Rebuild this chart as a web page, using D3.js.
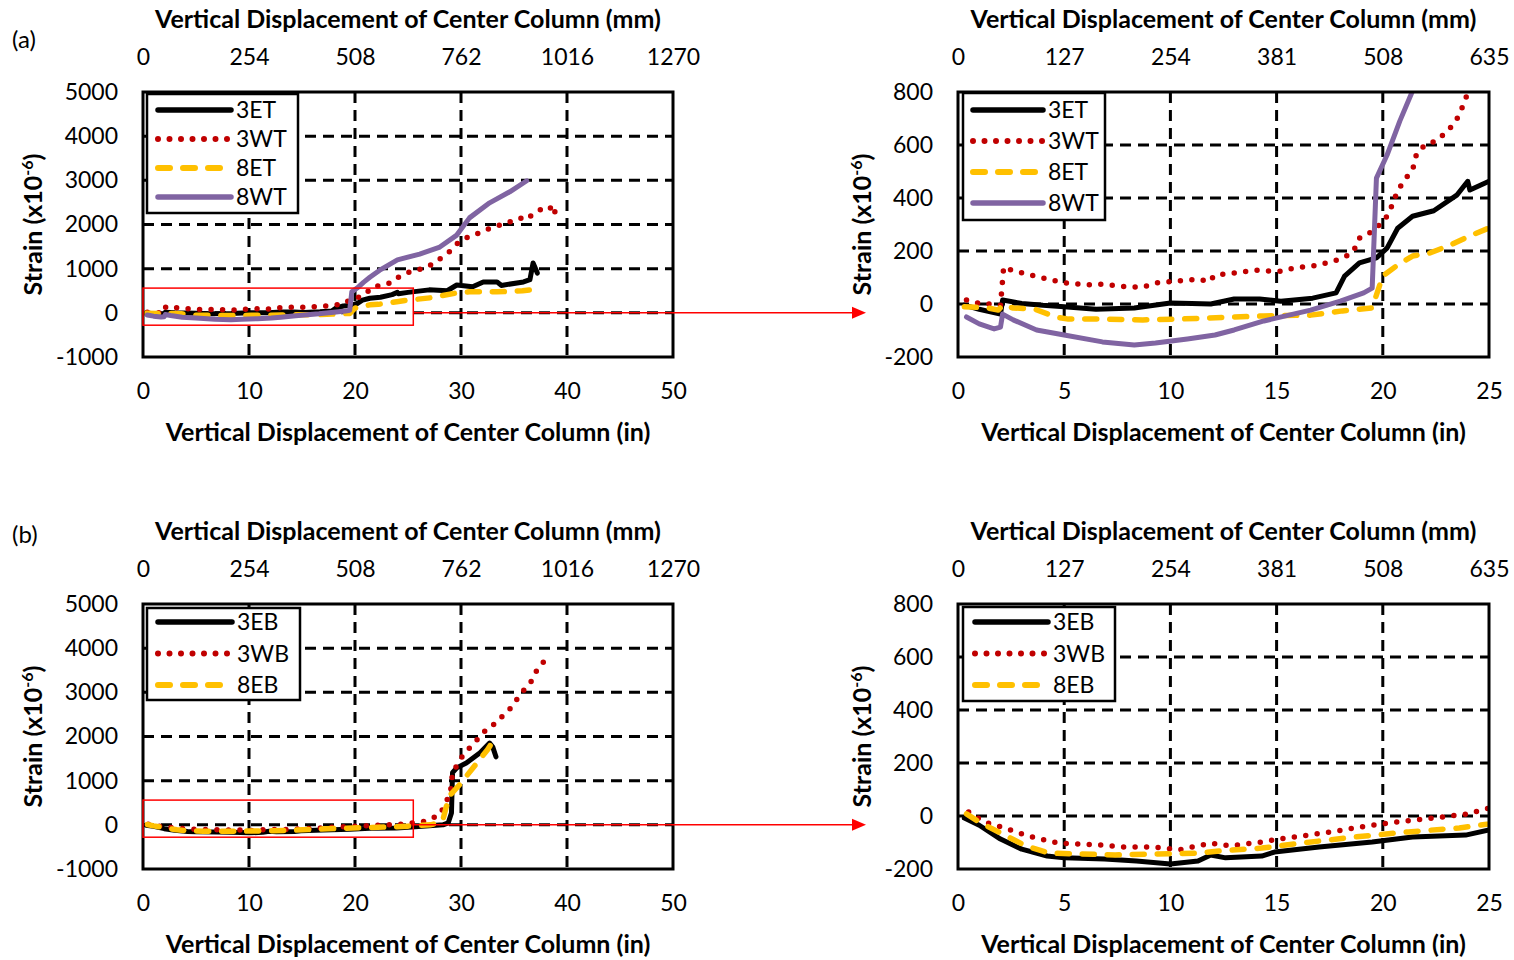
<!DOCTYPE html>
<html>
<head>
<meta charset="utf-8">
<style>
  body { margin: 0; background: #fff; }
  svg text { font-family: Lato, "Open Sans", sans-serif; fill: #000; }
</style>
<title>Strain vs displacement</title>
</head>
<body>
<svg id="chart" width="1514" height="960"></svg>
<script src="https://cdn.jsdelivr.net/npm/d3@7/dist/d3.min.js"></script>
<script>

// tick values / labels
var inTicksFull = [0, 10, 20, 30, 40, 50];
var mmTicksFull = ["0", "254", "508", "762", "1016", "1270"];
var inTicksZoom = [0, 5, 10, 15, 20, 25];
var mmTicksZoom = ["0", "127", "254", "381", "508", "635"];
var strainTicksFull = [-1000, 0, 1000, 2000, 3000, 4000, 5000];
var strainTicksZoom = [-200, 0, 200, 400, 600, 800];

// (a) top flange gauges : [displacement (in), strain (x10^-6)]
var s3ET = [[0.3,-4],[1.0,-20],[2.0,-38],[2.1,15],[3.0,2],[4.0,-5],[5.0,-10],[6.5,-20],[8.3,-15],[10.0,4],[11.0,2],[11.9,0],[13.0,19],[14.2,19],[15.2,10],[16.7,22],[17.8,42],[18.2,105],[18.9,155],[19.7,174],[20.2,211],[20.7,286],[21.4,331],[22.4,352],[23.5,412],[24.0,463],[24.1,430],[25.0,463],[27.0,520],[28.7,500],[29.6,630],[31.1,590],[32.1,700],[33.4,700],[33.8,620],[35.9,700],[36.5,750],[36.8,1130],[37.2,900]];
var s3WT = [[0.4,15],[0.8,5],[1.5,0],[2.0,-5],[2.15,140],[2.6,125],[3.8,102],[4.6,87],[5.1,79],[6.1,72],[6.8,75],[8.0,64],[8.7,64],[9.3,79],[10.3,87],[11.4,94],[11.8,83],[12.1,109],[13.0,117],[14.1,128],[14.7,124],[15.3,124],[15.8,136],[16.7,143],[17.7,162],[18.2,177],[18.6,196],[18.9,249],[19.2,257],[19.5,275],[20.0,309],[20.3,343],[20.5,388],[20.7,426],[21.0,467],[21.4,505],[21.6,570],[22.0,600],[22.6,619],[23.3,675],[23.6,713],[24.0,796],[24.9,905],[25.9,970],[26.8,1040],[27.5,1130],[28.5,1310],[29.0,1400],[29.7,1580],[30.5,1700],[31.1,1740],[32.1,1860],[33.2,1950],[34.6,2060],[35.6,2150],[36.0,2100],[37.0,2260],[37.7,2370],[38.2,2330],[38.8,2440],[38.9,2170]];
var s8ET = [[0.3,-10],[1.4,-15],[1.9,-23],[2.1,-4],[2.6,-15],[3.6,-19],[4.6,-49],[5.2,-57],[6.8,-57],[8.7,-60],[10.2,-57],[11.8,-53],[13.0,-49],[14.4,-45],[16.6,-42],[18.1,-26],[19.5,-15],[19.7,34],[20.0,106],[20.7,147],[21.4,181],[22.2,192],[23.2,223],[24.1,257],[25.0,287],[27.1,340],[29.6,450],[30.8,475],[33.4,475],[35.8,500],[36.5,520],[36.9,680]];
var s8WT = [[0.4,-49],[1.0,-75],[1.7,-94],[2.0,-87],[2.1,-38],[2.6,-60],[3.7,-98],[5.0,-117],[6.8,-143],[8.3,-155],[9.3,-147],[10.8,-132],[12.1,-117],[13.0,-98],[14.4,-64],[16.6,-23],[18.0,11],[19.1,42],[19.5,60],[19.7,475],[20.2,562],[20.8,690],[21.4,804],[22.3,960],[24.0,1200],[26.1,1330],[28.0,1490],[29.6,1760],[30.8,2150],[32.7,2490],[34.6,2740],[36.2,2990]];

// (b) bottom flange gauges
var s3EB = [[0.3,-8],[1.0,-35],[2.0,-87],[3.0,-125],[4.2,-151],[5.0,-158],[6.9,-162],[8.4,-170],[10.0,-181],[11.3,-170],[11.9,-147],[12.6,-158],[14.3,-151],[14.9,-136],[17.0,-117],[19.5,-98],[21.4,-79],[23.9,-72],[25.0,-53],[27.0,-20],[28.3,0],[28.8,45],[29.1,270],[29.2,1180],[29.6,1290],[30.5,1400],[31.8,1630],[32.7,1850],[33.0,1760],[33.3,1540]];
var s3WB = [[0.5,15],[0.85,-4],[1.5,-30],[2.2,-45],[2.7,-60],[3.3,-75],[3.9,-87],[4.7,-102],[5.7,-106],[6.7,-109],[7.7,-117],[9.2,-117],[10.4,-128],[11.9,-102],[12.8,-113],[14.3,-98],[15.1,-87],[16.2,-75],[17.6,-60],[19.2,-38],[20.3,-26],[21.5,-15],[22.8,-4],[24.0,8],[25.0,30],[26.4,70],[28.0,225],[29.0,720],[29.2,1180],[30.2,1580],[31.0,1790],[31.8,2000],[32.6,2220],[33.4,2310],[34.0,2490],[34.8,2670],[35.4,2890],[36.0,3070],[36.8,3300],[37.2,3530],[37.7,3670],[38.6,3820]];
var s8EB = [[0.4,8],[1.0,-23],[2.0,-64],[3.2,-113],[4.3,-140],[5.7,-143],[7.4,-147],[9.4,-143],[11.3,-140],[12.3,-132],[14.3,-121],[16.2,-102],[18.7,-79],[21.2,-60],[23.6,-45],[25.0,-30],[27.1,0],[28.0,50],[28.3,120],[28.6,400],[29.0,680],[30.1,970],[30.6,1130],[31.5,1400],[32.5,1700],[33.4,2040]];

var namesA = ["3ET", "3WT", "8ET", "8WT"];
var namesB = ["3EB", "3WB", "8EB"];
var seriesA = [s3ET, s3WT, s8ET, s8WT];
var seriesB = [s3EB, s3WB, s8EB];

// line styles: solid black, red dots, yellow dashes, purple solid
var styles = [
  { color: "#000000", width: 5, dash: null },
  { color: "#C00000", width: 5.5, dash: "0,11.5" },
  { color: "#FFC000", width: 5.5, dash: "12,13" },
  { color: "#8064A2", width: 5, dash: null }
];

var svg = d3.select("#chart");
var clipId = 0;

function drawPanel(p) {
  var x = d3.scaleLinear().domain(p.xDom).range([p.left, p.right]);
  var y = d3.scaleLinear().domain(p.yDom).range([p.bottom, p.top]);
  var g = svg.append("g");

  clipId++;
  svg.append("clipPath").attr("id", "clip" + clipId)
    .append("rect")
      .attr("x", p.left).attr("y", p.top)
      .attr("width", p.right - p.left).attr("height", p.bottom - p.top);

  // dashed grid
  g.selectAll("line.vg")
    .data(p.xTicks.slice(1, -1))
    .enter().append("line")
      .attr("x1", function(d) { return x(d); })
      .attr("x2", function(d) { return x(d); })
      .attr("y1", p.top).attr("y2", p.bottom)
      .attr("stroke", "#000").attr("stroke-width", 3).attr("stroke-dasharray", "11,7");
  g.selectAll("line.hg")
    .data(p.yTicks.slice(1, -1))
    .enter().append("line")
      .attr("y1", function(d) { return y(d); })
      .attr("y2", function(d) { return y(d); })
      .attr("x1", p.left).attr("x2", p.right)
      .attr("stroke", "#000").attr("stroke-width", 3).attr("stroke-dasharray", "11,7");

  // curves
  var line = d3.line().x(function(d) { return x(d[0]); }).y(function(d) { return y(d[1]); });
  var cg = g.append("g").attr("clip-path", "url(#clip" + clipId + ")");
  p.series.forEach(function(s, i) {
    var st = styles[i];
    cg.append("path")
      .attr("d", line(s))
      .attr("fill", "none")
      .attr("stroke", st.color)
      .attr("stroke-width", st.width)
      .attr("stroke-linecap", "round")
      .attr("stroke-linejoin", "round")
      .attr("stroke-dasharray", st.dash);
  });

  // frame
  g.append("rect")
    .attr("x", p.left).attr("y", p.top)
    .attr("width", p.right - p.left).attr("height", p.bottom - p.top)
    .attr("fill", "none").attr("stroke", "#000").attr("stroke-width", 3);

  // axes
  var bottomAxis = d3.axisBottom(x).tickValues(p.xTicks).tickSize(0).tickPadding(26)
    .tickFormat(function(d) { return String(d); });
  var topAxis = d3.axisTop(x).tickValues(p.xTicks).tickSize(0).tickPadding(27)
    .tickFormat(function(d, i) { return p.mmLabels[i]; });
  var leftAxis = d3.axisLeft(y).tickValues(p.yTicks).tickSize(0).tickPadding(25)
    .tickFormat(function(d) { return String(d); });

  [[bottomAxis, "translate(0," + p.bottom + ")"],
   [topAxis, "translate(0," + p.top + ")"],
   [leftAxis, "translate(" + p.left + ",0)"]].forEach(function(a) {
    var ax = g.append("g").attr("transform", a[1]).call(a[0]);
    ax.select(".domain").remove();
    ax.selectAll("text").style("font-family", "Lato, sans-serif").style("font-size", "23px").attr("fill", "#000");
  });

  var cx = (p.left + p.right) / 2;
  g.append("text").attr("x", cx).attr("y", p.top - 64)
    .attr("text-anchor", "middle").style("font-size", "25px").style("font-weight", "bold")
    .text("Vertical Displacement of Center Column (mm)");
  g.append("text").attr("x", cx).attr("y", p.bottom + 84)
    .attr("text-anchor", "middle").style("font-size", "25px").style("font-weight", "bold")
    .text("Vertical Displacement of Center Column (in)");

  var yt = g.append("text")
    .attr("transform", "translate(" + p.yTitleX + "," + ((p.top + p.bottom) / 2) + ") rotate(-90)")
    .attr("text-anchor", "middle").style("font-size", "25px").style("font-weight", "bold");
  yt.append("tspan").text("Strain (x10");
  yt.append("tspan").attr("dy", -9).style("font-size", "16px").text("-6");
  yt.append("tspan").attr("dy", 9).text(")");

  // legend
  var lg = p.legend;
  g.append("rect")
    .attr("x", lg.x).attr("y", lg.y).attr("width", lg.w).attr("height", lg.h)
    .attr("fill", "#fff").attr("stroke", "#000").attr("stroke-width", 2.5);
  p.names.forEach(function(n, i) {
    var st = styles[i];
    var yy = lg.y + lg.first + i * lg.step;
    g.append("line")
      .attr("x1", lg.x + lg.l0).attr("x2", lg.x + lg.l1)
      .attr("y1", yy).attr("y2", yy)
      .attr("stroke", st.color).attr("stroke-width", st.width + 0.5)
      .attr("stroke-linecap", "round").attr("stroke-dasharray", st.dash);
    g.append("text").attr("x", lg.x + lg.l1 + 5).attr("y", yy + 8)
      .style("font-size", "23px").text(n);
  });

  return { x: x, y: y };
}

var a1 = drawPanel({ left: 143, right: 673, top: 92, bottom: 357, xDom: [0, 50], yDom: [-1000, 5000],
  xTicks: inTicksFull, mmLabels: mmTicksFull, yTicks: strainTicksFull, yTitleX: 42,
  series: seriesA, names: namesA,
  legend: { x: 147, y: 94, w: 151, h: 119, first: 16, step: 29, l0: 11, l1: 84 } });
var a2 = drawPanel({ left: 958, right: 1489, top: 92, bottom: 357, xDom: [0, 25], yDom: [-200, 800],
  xTicks: inTicksZoom, mmLabels: mmTicksZoom, yTicks: strainTicksZoom, yTitleX: 871,
  series: seriesA, names: namesA,
  legend: { x: 963, y: 93, w: 142, h: 127, first: 17, step: 31, l0: 10, l1: 80 } });
var b1 = drawPanel({ left: 143, right: 673, top: 604, bottom: 869, xDom: [0, 50], yDom: [-1000, 5000],
  xTicks: inTicksFull, mmLabels: mmTicksFull, yTicks: strainTicksFull, yTitleX: 42,
  series: seriesB, names: namesB,
  legend: { x: 147, y: 608, w: 153, h: 92, first: 14, step: 31.5, l0: 11, l1: 85 } });
var b2 = drawPanel({ left: 958, right: 1489, top: 604, bottom: 869, xDom: [0, 25], yDom: [-200, 800],
  xTicks: inTicksZoom, mmLabels: mmTicksZoom, yTicks: strainTicksZoom, yTitleX: 871,
  series: seriesB, names: namesB,
  legend: { x: 963, y: 607, w: 152, h: 94, first: 15, step: 31.5, l0: 12, l1: 85 } });

// zoom box + arrow pointing to the enlarged panel
function zoomMark(sc, tipX) {
  var x0 = sc.x(0), x1 = sc.x(25.5), y0 = sc.y(560), y1 = sc.y(-280), ya = sc.y(0);
  svg.append("rect").attr("x", x0).attr("y", y0).attr("width", x1 - x0).attr("height", y1 - y0)
    .attr("fill", "none").attr("stroke", "#FF0000").attr("stroke-width", 1.5);
  svg.append("line").attr("x1", x1).attr("x2", tipX - 12).attr("y1", ya).attr("y2", ya)
    .attr("stroke", "#FF0000").attr("stroke-width", 1.5);
  svg.append("path")
    .attr("d", "M" + tipX + "," + ya + "L" + (tipX - 14) + "," + (ya - 6) + "L" + (tipX - 14) + "," + (ya + 6) + "Z")
    .attr("fill", "#FF0000");
}
zoomMark(a1, 866);
zoomMark(b1, 866);

svg.append("text").attr("x", 12).attr("y", 48).style("font-size", "24px").text("(a)");
svg.append("text").attr("x", 12).attr("y", 543).style("font-size", "24px").text("(b)");

</script>
</body>
</html>
